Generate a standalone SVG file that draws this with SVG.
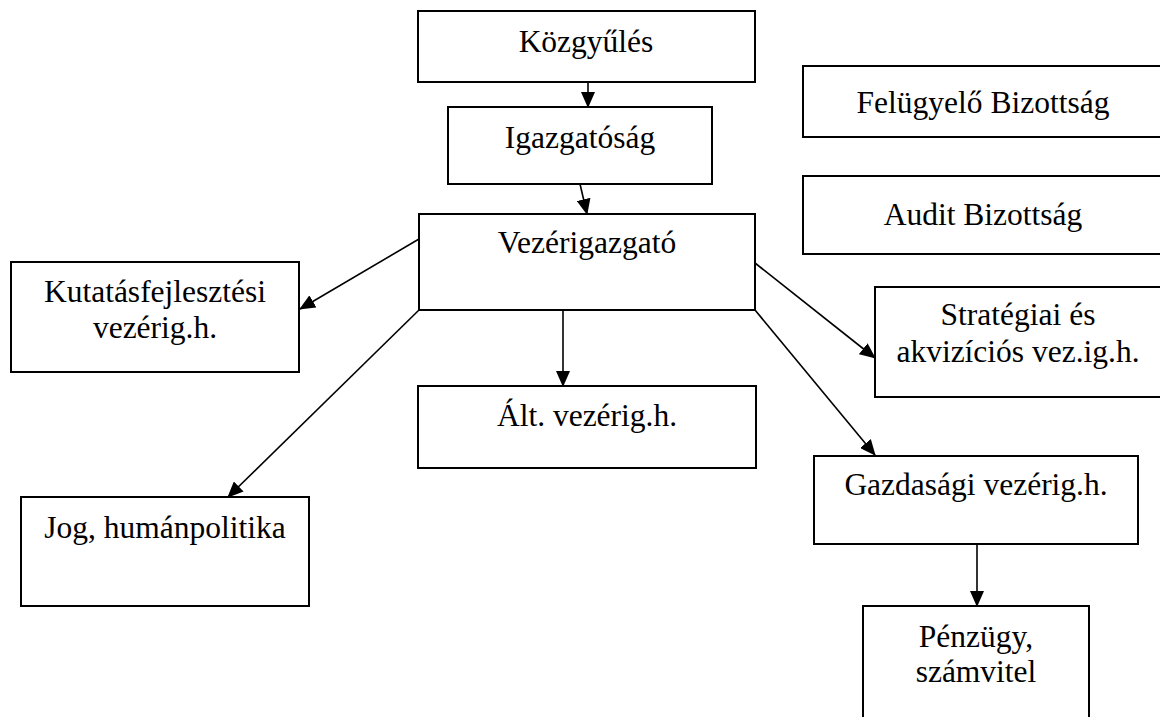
<svg xmlns="http://www.w3.org/2000/svg" width="1160" height="717" viewBox="0 0 1160 717">
<style>
.box{fill:#fff;stroke:#000;stroke-width:2}
.t{font-family:"Liberation Serif","Times New Roman",serif;font-size:31.5px;fill:#000;text-anchor:middle}
.c{stroke:#000;stroke-width:1.6;fill:none;marker-end:url(#ah)}
</style>
<defs>
<marker id="ah" markerWidth="16" markerHeight="14" refX="15" refY="7" orient="auto" markerUnits="userSpaceOnUse">
<path d="M0,0 L16,7 L0,14 Z" fill="#000"/>
</marker>
</defs>
<rect width="1160" height="717" fill="#fff"/>
<g id="kozgyules"><rect class="box" x="418" y="11" width="337" height="71"/><text class="t" x="586" y="52">Közgyűlés</text></g>
<g id="igazgatosag"><rect class="box" x="448" y="107" width="264" height="77"/><text class="t" x="580" y="148">Igazgatóság</text></g>
<g id="vezerigazgato"><rect class="box" x="419" y="214" width="336" height="96"/><text class="t" x="587" y="253">Vezérigazgató</text></g>
<g id="felugyelo"><rect class="box" x="803" y="66" width="362" height="71"/><text class="t" x="983" y="113">Felügyelő Bizottság</text></g>
<g id="audit"><rect class="box" x="803" y="176" width="362" height="78"/><text class="t" x="983" y="225">Audit Bizottság</text></g>
<g id="kutatas"><rect class="box" x="11" y="262" width="288" height="110"/><text class="t" x="155" y="302">Kutatásfejlesztési</text><text class="t" x="155" y="338">vezérig.h.</text></g>
<g id="strategiai"><rect class="box" x="875" y="287" width="290" height="110"/><text class="t" x="1018" y="325">Stratégiai és</text><text class="t" x="1018" y="362">akvizíciós vez.ig.h.</text></g>
<g id="alt"><rect class="box" x="418" y="386" width="338" height="82"/><text class="t" x="587" y="426">Ált. vezérig.h.</text></g>
<g id="gazdasagi"><rect class="box" x="814" y="456" width="324" height="88"/><text class="t" x="976" y="495">Gazdasági vezérig.h.</text></g>
<g id="jog"><rect class="box" x="21" y="497" width="288" height="109"/><text class="t" x="165" y="538">Jog, humánpolitika</text></g>
<g id="penzugy"><rect class="box" x="863" y="606" width="226" height="130"/><text class="t" x="976" y="647">Pénzügy,</text><text class="t" x="976" y="682">számvitel</text></g>
<g id="connectors">
<line class="c" x1="588" y1="82" x2="588" y2="107"/>
<line class="c" x1="580" y1="184" x2="587" y2="214"/>
<line class="c" x1="419" y1="239" x2="300" y2="309"/>
<line class="c" x1="419" y1="310" x2="228" y2="497"/>
<line class="c" x1="563" y1="310" x2="563" y2="386"/>
<line class="c" x1="755" y1="263" x2="875" y2="358"/>
<line class="c" x1="755" y1="310" x2="875" y2="455"/>
<line class="c" x1="977" y1="544" x2="977" y2="606"/>
</g>
</svg>
